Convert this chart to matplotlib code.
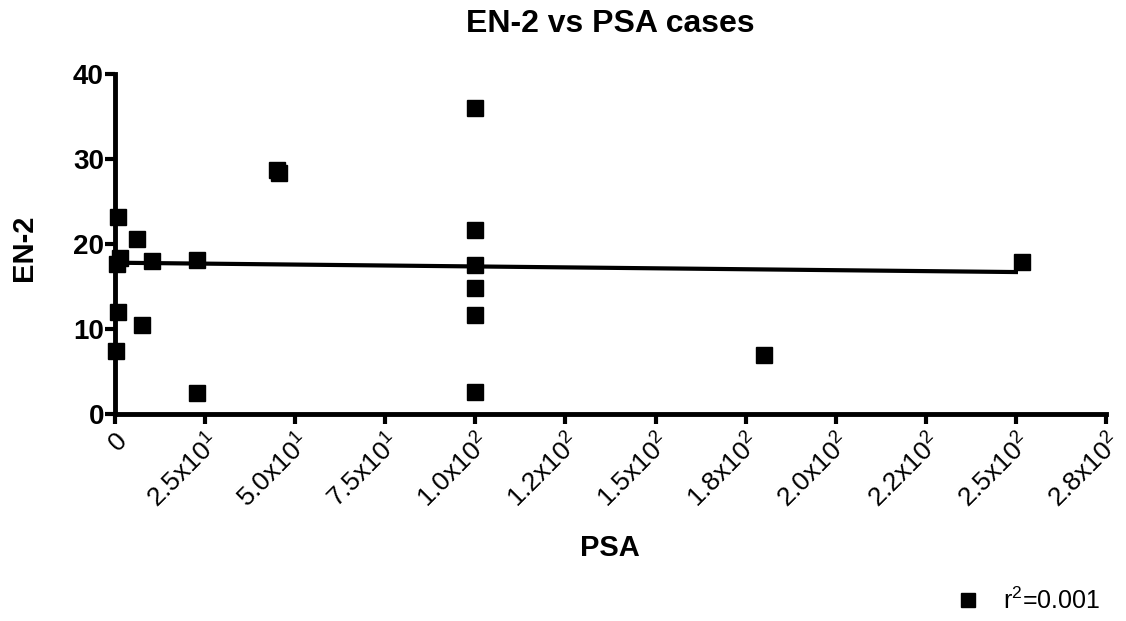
import numpy as np
import matplotlib
matplotlib.use('Agg')
import matplotlib.pyplot as plt

plt.rcParams['font.family'] = ['Liberation Sans', 'DejaVu Sans']
plt.rcParams['mathtext.fontset'] = 'custom'
plt.rcParams['mathtext.rm'] = 'Liberation Sans'
plt.rcParams['mathtext.bf'] = 'Liberation Sans:bold'

# values
psa = [0.9, 6.0, 1.4, 0.5, 10.2, 22.8, 0.9, 7.6, 0.3, 22.8, 44.9, 45.5,
       100, 100, 100, 100, 100, 100, 180, 251.7]
en2 = [23.2, 20.6, 18.3, 17.6, 18.0, 18.1, 12.0, 10.5, 7.4, 2.5, 28.7, 28.3,
       36.0, 21.7, 17.5, 14.8, 11.6, 2.6, 7.0, 17.9]
# fitted line as drawn in the picture (start/end of the regression line)
fit_x = [0, 250]
fit_y = [17.8, 16.7]
xticks = [0, 25, 50, 75, 100, 125, 150, 175, 200, 225, 250, 275]
xticklabels = ['0', '2.5x10$^{1}$', '5.0x10$^{1}$', '7.5x10$^{1}$', '1.0x10$^{2}$',
               '1.2x10$^{2}$', '1.5x10$^{2}$', '1.8x10$^{2}$', '2.0x10$^{2}$',
               '2.2x10$^{2}$', '2.5x10$^{2}$', '2.8x10$^{2}$']
yticks = [0, 10, 20, 30, 40]
r2_label = 'r$^{2}$=0.001'

fig = plt.figure(figsize=(11.26, 6.21), dpi=100)
ax = fig.add_axes([115/1126, 1-414/621, 991/1126, 340/621])

sc = ax.plot(psa, en2, 's', color='black', markersize=11.5, clip_on=False, zorder=3)[0]
ax.plot(fit_x, fit_y, color='black', linewidth=3, clip_on=False)

ax.set_xlim(0, 275)
ax.set_ylim(0, 40)
ax.set_xticks(xticks)
ax.set_xticklabels(xticklabels, rotation=45, ha='right', va='top',
                   rotation_mode='anchor', fontsize=19)
ax.set_yticks(yticks)
ax.set_yticklabels([str(t) for t in yticks], fontsize=20, fontweight='bold')

for s in ['top', 'right']:
    ax.spines[s].set_visible(False)
for s in ['left', 'bottom']:
    ax.spines[s].set_linewidth(3.5)
ax.tick_params(axis='both', length=7, width=3, direction='out')
ax.tick_params(axis='y', pad=1)
ax.tick_params(axis='x', pad=3)

ax.set_title('EN-2 vs PSA cases', fontsize=23, fontweight='bold', pad=30)
ax.set_xlabel('PSA', fontsize=21, fontweight='bold')
ax.set_ylabel('EN-2', fontsize=21, fontweight='bold')
ax.xaxis.set_label_coords((610-115)/991, -(534-414)/340)
ax.yaxis.set_label_coords(-(115-10)/991, (414-248)/340)
ax.yaxis.label.set_va('top')

ax.legend([sc], [r2_label], loc='center right', frameon=False, fontsize=18,
          markerscale=0.85, handlelength=1.0, handletextpad=0.9,
          bbox_to_anchor=(1122/1126, 1-601/621), bbox_transform=fig.transFigure)

fig.savefig('out.png', dpi=100)
